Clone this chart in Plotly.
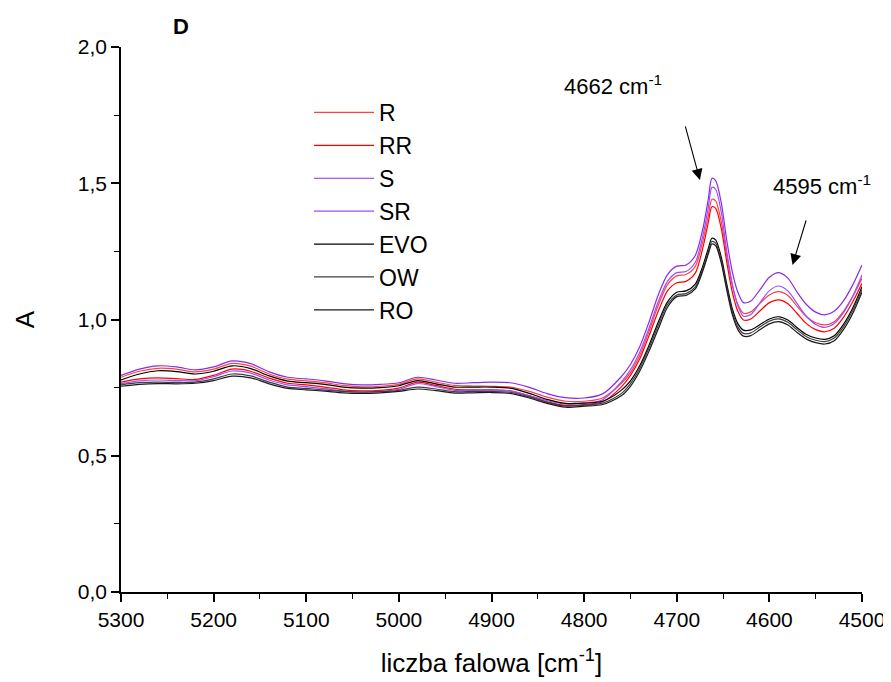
import plotly.graph_objects as go

wavenumber = [5300, 5280, 5260, 5240, 5220, 5200, 5180, 5160, 5140, 5120, 5100, 5080, 5060, 5040, 5020,
              5000, 4980, 4960, 4940, 4920, 4900, 4880, 4860, 4840, 4820, 4800, 4780,
              4760, 4750, 4740, 4730, 4720, 4710, 4700, 4690, 4680, 4672, 4666, 4662, 4658, 4652, 4646,
              4640, 4634, 4628, 4620, 4610, 4600, 4590, 4580, 4570, 4560, 4550, 4540, 4530, 4520, 4510, 4500]

S = [0.795, 0.818, 0.830, 0.826, 0.815, 0.826, 0.848, 0.838, 0.808, 0.788, 0.782, 0.775, 0.765, 0.760, 0.762,
     0.768, 0.788, 0.778, 0.766, 0.768, 0.770, 0.768, 0.752, 0.728, 0.713, 0.712, 0.727,
     0.790, 0.835, 0.900, 0.990, 1.090, 1.165, 1.196, 1.200, 1.235, 1.330, 1.440, 1.518, 1.510, 1.430, 1.290,
     1.175, 1.100, 1.062, 1.068, 1.110, 1.155, 1.172, 1.152, 1.100, 1.055, 1.027, 1.017, 1.030, 1.068, 1.127, 1.200]

SR = [0.765, 0.775, 0.778, 0.776, 0.775, 0.790, 0.811, 0.803, 0.778, 0.760, 0.754, 0.746, 0.737, 0.733, 0.736,
      0.744, 0.765, 0.754, 0.740, 0.740, 0.741, 0.738, 0.722, 0.702, 0.690, 0.693, 0.705,
      0.770, 0.815, 0.880, 0.968, 1.065, 1.140, 1.172, 1.176, 1.210, 1.305, 1.410, 1.485, 1.478, 1.395, 1.250,
      1.130, 1.050, 1.012, 1.018, 1.062, 1.106, 1.123, 1.105, 1.058, 1.012, 0.982, 0.971, 0.985, 1.025, 1.085, 1.163]

R = [0.788, 0.810, 0.821, 0.818, 0.808, 0.818, 0.839, 0.829, 0.800, 0.781, 0.775, 0.768, 0.758, 0.753, 0.755,
     0.762, 0.782, 0.770, 0.758, 0.756, 0.755, 0.752, 0.737, 0.715, 0.700, 0.700, 0.712,
     0.765, 0.805, 0.868, 0.955, 1.052, 1.128, 1.160, 1.165, 1.195, 1.285, 1.380, 1.441, 1.435, 1.360, 1.235,
     1.125, 1.055, 1.023, 1.028, 1.060, 1.090, 1.102, 1.088, 1.048, 1.010, 0.988, 0.980, 0.992, 1.030, 1.085, 1.151]

RR = [0.770, 0.782, 0.786, 0.783, 0.780, 0.795, 0.818, 0.810, 0.785, 0.766, 0.760, 0.752, 0.742, 0.738, 0.740,
      0.748, 0.770, 0.758, 0.744, 0.742, 0.742, 0.738, 0.720, 0.698, 0.685, 0.688, 0.698,
      0.752, 0.795, 0.855, 0.940, 1.030, 1.105, 1.135, 1.140, 1.170, 1.260, 1.355, 1.414, 1.408, 1.335, 1.210,
      1.100, 1.030, 0.998, 1.002, 1.032, 1.062, 1.072, 1.058, 1.022, 0.985, 0.963, 0.955, 0.968, 1.008, 1.065, 1.133]

EVO = [0.778, 0.800, 0.812, 0.809, 0.800, 0.810, 0.830, 0.820, 0.793, 0.774, 0.768, 0.762, 0.752, 0.748, 0.750,
       0.757, 0.776, 0.764, 0.752, 0.752, 0.752, 0.748, 0.730, 0.707, 0.692, 0.693, 0.700,
       0.740, 0.775, 0.830, 0.905, 0.990, 1.065, 1.100, 1.105, 1.130, 1.195, 1.260, 1.298, 1.292, 1.230, 1.130,
       1.040, 0.985, 0.961, 0.962, 0.982, 1.002, 1.010, 0.998, 0.970, 0.945, 0.932, 0.927, 0.940, 0.982, 1.042, 1.120]

OW = [0.760, 0.768, 0.770, 0.769, 0.770, 0.782, 0.800, 0.793, 0.770, 0.752, 0.747, 0.741, 0.736, 0.734, 0.735,
      0.740, 0.752, 0.745, 0.735, 0.736, 0.736, 0.733, 0.717, 0.696, 0.682, 0.686, 0.693,
      0.728, 0.765, 0.820, 0.895, 0.978, 1.055, 1.090, 1.095, 1.120, 1.185, 1.248, 1.286, 1.280, 1.218, 1.118,
      1.028, 0.973, 0.949, 0.951, 0.973, 0.994, 1.002, 0.990, 0.962, 0.937, 0.924, 0.919, 0.932, 0.973, 1.033, 1.110]

RO = [0.755, 0.762, 0.765, 0.764, 0.766, 0.776, 0.792, 0.786, 0.764, 0.747, 0.742, 0.737, 0.731, 0.729, 0.731,
      0.736, 0.745, 0.739, 0.730, 0.731, 0.732, 0.729, 0.713, 0.692, 0.678, 0.682, 0.688,
      0.720, 0.755, 0.810, 0.883, 0.965, 1.045, 1.084, 1.088, 1.112, 1.177, 1.240, 1.277, 1.271, 1.208, 1.108,
      1.018, 0.963, 0.939, 0.941, 0.963, 0.984, 0.992, 0.980, 0.952, 0.928, 0.915, 0.910, 0.922, 0.963, 1.022, 1.100]

series_names = ["R", "RR", "S", "SR", "EVO", "OW", "RO"]
series_values = [R, RR, S, SR, EVO, OW, RO]
series_colors = ["#ff4040", "#ff0000", "#8a2be2", "#9b4dff", "#000000", "#404040", "#1a1a1a"]

x_ticks = [5300, 5200, 5100, 5000, 4900, 4800, 4700, 4600, 4500]
y_ticks = [0.0, 0.5, 1.0, 1.5, 2.0]
y_tick_labels = ["0,0", "0,5", "1,0", "1,5", "2,0"]

FONT = "Liberation Sans, Arial, sans-serif"

fig = go.Figure()
for name, vals, col in zip(series_names, series_values, series_colors):
    fig.add_trace(go.Scatter(x=wavenumber, y=vals, mode="lines", name=name,
                             line=dict(color=col, width=1.2, shape="spline", smoothing=0.8)))

axis_common = dict(showline=True, linecolor="black", linewidth=1.6, ticks="outside",
                   ticklen=8, tickwidth=1.6, tickcolor="black", showgrid=False, zeroline=False,
                   automargin=False,
                   tickfont=dict(family=FONT, size=21, color="black"))

fig.update_xaxes(range=[5300, 4500], tickvals=x_ticks, ticktext=[str(v) for v in x_ticks],
                 minor=dict(ticks="outside", ticklen=5, tickwidth=1.4, tickcolor="black", dtick=50,
                            tick0=5300, showgrid=False),
                 title=dict(text="liczba falowa [cm<sup>-1</sup>]", font=dict(family=FONT, size=26, color="black"),
                            standoff=24),
                 **axis_common)
fig.update_yaxes(range=[0, 2], tickvals=y_ticks, ticktext=y_tick_labels,
                 minor=dict(ticks="outside", ticklen=5, tickwidth=1.4, tickcolor="black", dtick=0.25,
                            tick0=0, showgrid=False),
                 title=dict(text="A", font=dict(family=FONT, size=26, color="black"), standoff=36),
                 **axis_common)

fig.add_annotation(x=4675, y=1.512, xref="x", yref="y", ax=-15, ay=-55, text="", showarrow=True,
                   arrowhead=2, arrowsize=2, arrowwidth=1.1, arrowcolor="black")
fig.add_annotation(x=4575, y=1.20, xref="x", yref="y", ax=14, ay=-46, text="", showarrow=True,
                   arrowhead=2, arrowsize=2, arrowwidth=1.1, arrowcolor="black")
fig.add_annotation(x=(613 - 121) / 741, y=(592 - 85) / 545, xref="paper", yref="paper",
                   xanchor="center", yanchor="middle",
                   text="4662 cm<sup>-1</sup>", showarrow=False,
                   font=dict(family=FONT, size=22, color="black"))
fig.add_annotation(x=(822 - 121) / 741, y=(592 - 185) / 545, xref="paper", yref="paper",
                   xanchor="center", yanchor="middle",
                   text="4595 cm<sup>-1</sup>", showarrow=False,
                   font=dict(family=FONT, size=22, color="black"))
fig.add_annotation(x=(181 - 121) / 741, y=(592 - 26) / 545, xref="paper", yref="paper",
                   xanchor="center", yanchor="middle",
                   text="<b>D</b>", showarrow=False,
                   font=dict(family=FONT, size=22, color="black"))

fig.update_layout(
    width=883, height=674,
    margin=dict(l=113, r=29, t=39, b=90),
    paper_bgcolor="white", plot_bgcolor="white",
    font=dict(family=FONT, color="black"),
    legend=dict(x=(309 - 121) / 741, y=(592 - 91) / 545, xanchor="left", yanchor="top",
                bgcolor="rgba(0,0,0,0)", borderwidth=0,
                font=dict(family=FONT, size=23, color="black"),
                tracegroupgap=0, itemwidth=60),
)

fig.write_html("out.html")
